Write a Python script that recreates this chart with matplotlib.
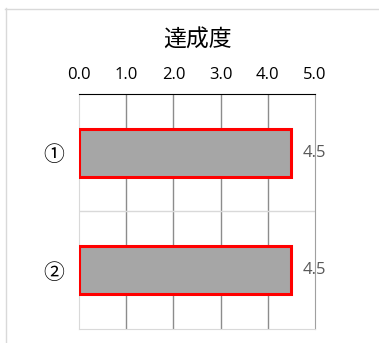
import matplotlib
matplotlib.use("Agg")
import matplotlib.pyplot as plt
from matplotlib.lines import Line2D

categories = ["①", "②"]
values = [4.5, 4.5]
xticks = [0.0, 1.0, 2.0, 3.0, 4.0, 5.0]
xtick_labels = ["0.0", "1.0", "2.0", "3.0", "4.0", "5.0"]
title = "達成度"

plt.rcParams['font.family'] = ['Noto Sans CJK JP', 'DejaVu Sans']

fig = plt.figure(figsize=(3.79, 3.43), dpi=100)
fig.patch.set_facecolor("white")
ax = fig.add_axes([79/379, 1-329/343, (315-79)/379, (329-94)/343])

y = list(range(len(categories)))
ax.barh(y, values, height=0.41, color="#a6a6a6", edgecolor="#ff0000", linewidth=2.2, zorder=3)
ax.set_ylim(len(categories)-0.5, -0.5)
ax.set_xlim(0, 5)
ax.set_xticks(xticks)
ax.set_xticklabels(xtick_labels, fontsize=12, family=['Open Sans', 'DejaVu Sans'], color="#000000")
ax.xaxis.tick_top()
ax.tick_params(axis='x', length=0, pad=8)
ax.set_yticks(y)
ax.set_yticklabels(categories, fontsize=15, color="#000000")
ax.tick_params(axis='y', length=0, pad=11)

for xv in xticks[1:-1]:
    ax.axvline(xv, color="#8c8c8c", linewidth=1.0, zorder=1)
ax.axhline(0.5, color="#d9d9d9", linewidth=1.0, zorder=1)

ax.spines['top'].set_color("#000000")
ax.spines['top'].set_linewidth(0.8)
ax.spines['left'].set_color("#d9d9d9")
ax.spines['bottom'].set_color("#d9d9d9")
ax.spines['right'].set_color("#a0a0a0")
for s in ax.spines.values():
    s.set_zorder(2)

for yi, v in zip(y, values):
    ax.annotate(f"{v:.1f}", (v, yi), xytext=(8, 0), textcoords="offset points",
                va="center", ha="left", fontsize=12, color="#595959",
                family=['Open Sans', 'DejaVu Sans'], zorder=4)

fig.text(197/379, 1-40/343, title, ha="center", va="center", fontsize=16.5, color="#000000")

fig.add_artist(Line2D([5.5/379, 5.5/379], [0, 1-8/343], transform=fig.transFigure, color="#d9d9d9", linewidth=1.0))
fig.add_artist(Line2D([5/379, 1], [1-8.5/343, 1-8.5/343], transform=fig.transFigure, color="#d9d9d9", linewidth=1.0))

fig.savefig("out.png", dpi=100)
